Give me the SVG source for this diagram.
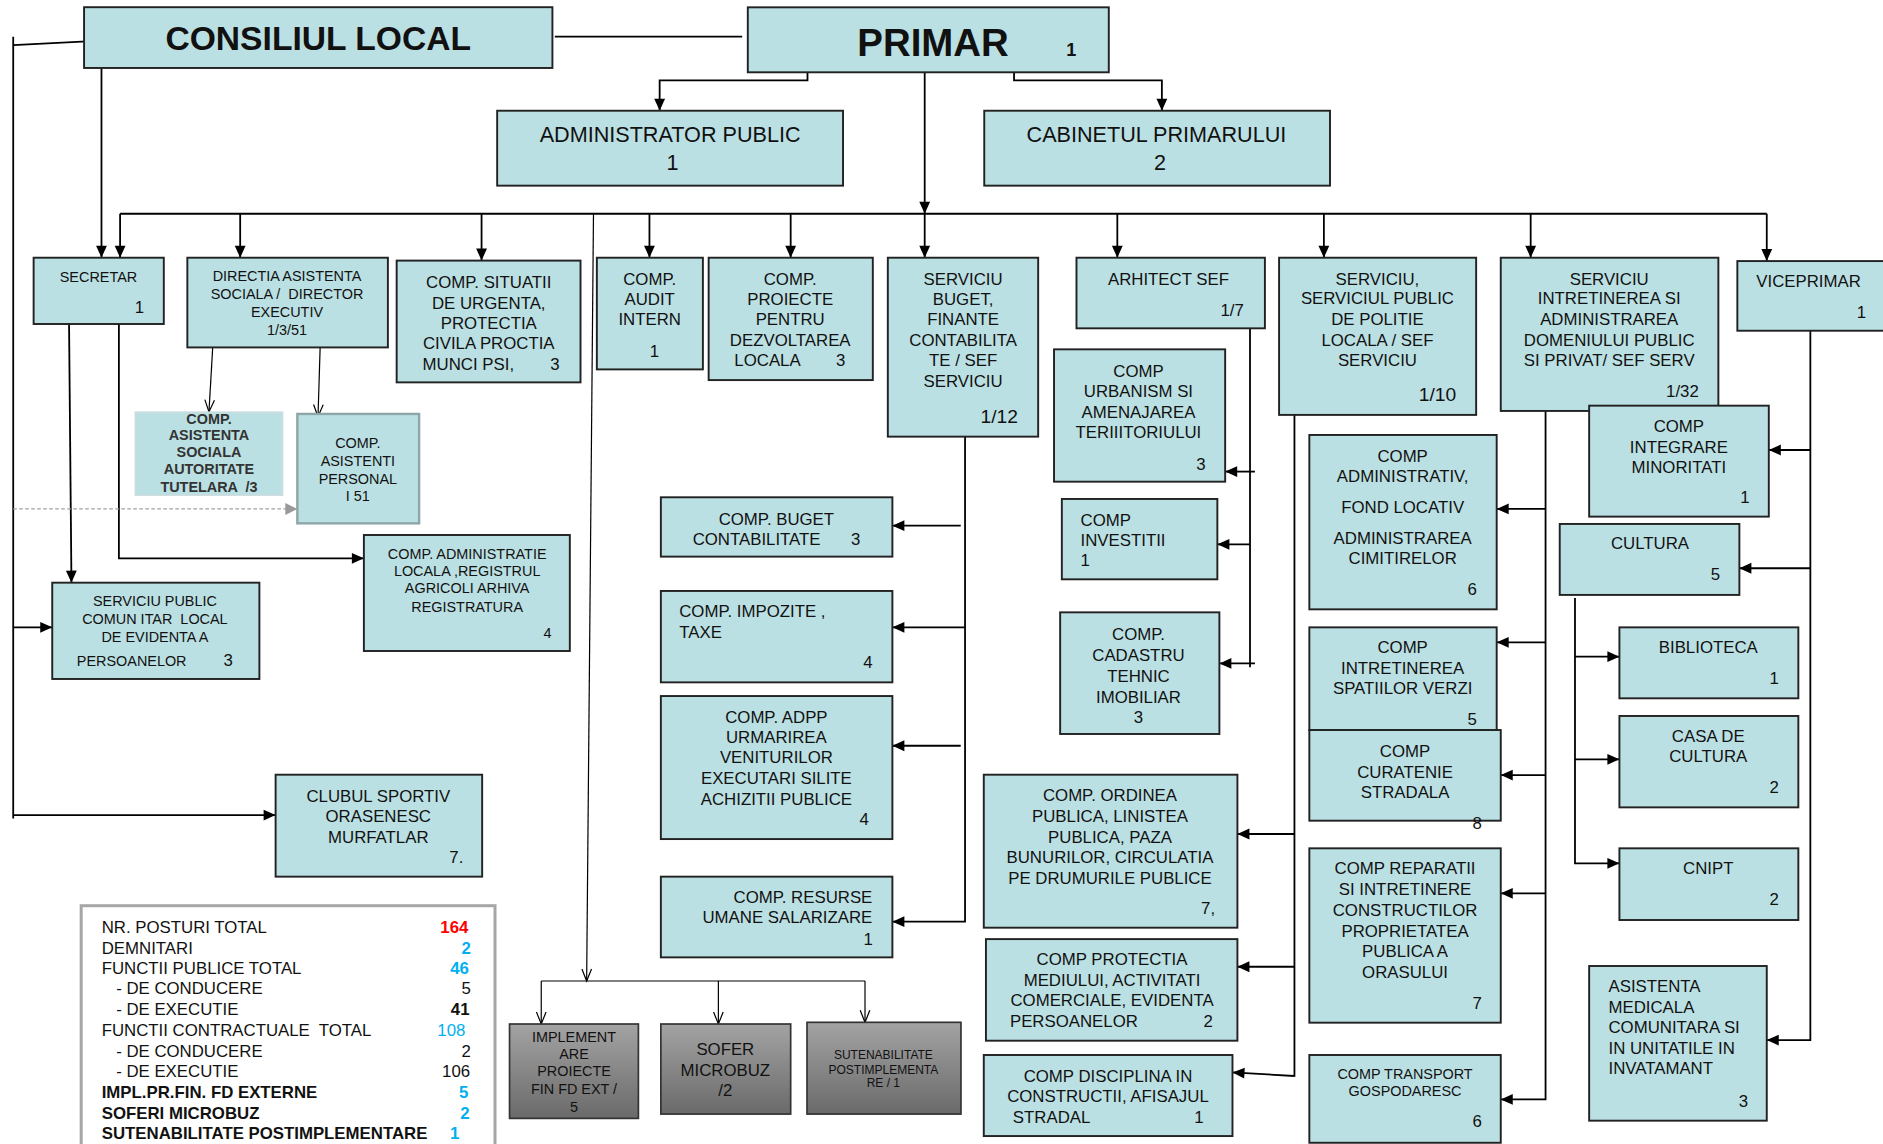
<svg xmlns="http://www.w3.org/2000/svg" width="1883" height="1144" viewBox="0 0 1883 1144">
<defs>
<style>
.n{fill:#bbe0e3;stroke:#222;stroke-width:1.6}
.g{stroke:#333;stroke-width:1.4}
.c{stroke:#000;stroke-width:1.5;fill:none}
.th{stroke:#000;stroke-width:1;fill:none}
text{font-family:"Liberation Sans",Arial,sans-serif;fill:#111}
.f10{font-size:10px}.f12{font-size:12px}.f14{font-size:14px}.f16{font-size:16px}.f18{font-size:18px}
.m{text-anchor:middle}.e{text-anchor:end}.b{font-weight:bold}
</style>
<linearGradient id="gr" x1="0" y1="0" x2="0" y2="1"><stop offset="0" stop-color="#a3a3a3"/><stop offset="1" stop-color="#6a6a6a"/></linearGradient>
<marker id="a" markerUnits="userSpaceOnUse" markerWidth="10" markerHeight="9" refX="10" refY="4.5" orient="auto" overflow="visible"><path d="M0,0 L10,4.5 L0,9 Z" fill="#000"/></marker>
<marker id="o" markerUnits="userSpaceOnUse" markerWidth="10" markerHeight="8" refX="10" refY="4" orient="auto" overflow="visible"><path d="M0,0 L10,4 L0,8" fill="none" stroke="#000" stroke-width="1"/></marker>
<marker id="ga" markerUnits="userSpaceOnUse" markerWidth="10" markerHeight="10" refX="10" refY="5" orient="auto" overflow="visible"><path d="M0,0 L10,5 L0,10 Z" fill="#999"/></marker>
</defs>
<rect width="1883" height="1144" fill="#fff"/>
<g transform="scale(1.2009)">
<g id="connectors">
<path class="c" d="M462,30.5 H618"/>
<path class="c" d="M11,37.5 L84.5,33.9"/>
<path class="c" d="M11,30.5 V681.5"/>
<path class="c" d="M11,522.4 H43.5" marker-end="url(#a)"/>
<path class="c" d="M11,678.7 H229.5" marker-end="url(#a)"/>
<path class="c" d="M84.5,56.6 V214.6" marker-end="url(#a)"/>
<path class="c" d="M672.4,55 V66.9 H549.3 V92.2" marker-end="url(#a)"/>
<path class="c" d="M844.4,55 V66.9 H967.5 V92.2" marker-end="url(#a)"/>
<path class="c" d="M770,60 V178" marker-end="url(#a)"/>
<path class="c" d="M100,178 H1471.2"/>
<path class="c" d="M100,178 V214.6" marker-end="url(#a)"/>
<path class="c" d="M200,178 V214.6" marker-end="url(#a)"/>
<path class="c" d="M401,178 V217" marker-end="url(#a)"/>
<path class="c" d="M540.8,178 V214.6" marker-end="url(#a)"/>
<path class="c" d="M658.4,178 V214.6" marker-end="url(#a)"/>
<path class="c" d="M770,178 V214.6" marker-end="url(#a)"/>
<path class="c" d="M930.4,178 V214.6" marker-end="url(#a)"/>
<path class="c" d="M1102.4,178 V214.6" marker-end="url(#a)"/>
<path class="c" d="M1274.6,178 V214.6" marker-end="url(#a)"/>
<path class="c" d="M1471.2,178 V217.4" marker-end="url(#a)"/>
<path class="c" d="M57.5,269.8 L59.5,485.2" marker-end="url(#a)"/>
<path class="c" d="M99,261 V464.9 H303" marker-end="url(#a)"/>
<path class="th" d="M177.6,281 L174,343" marker-end="url(#o)"/>
<path class="th" d="M266.6,289 L264.8,347" marker-end="url(#o)"/>
<path d="M11,423.8 H247.6" fill="none" stroke="#a0a0a0" stroke-width="1" stroke-dasharray="3,2" marker-end="url(#ga)"/>
<path class="th" d="M494.2,178 L488.5,816.9" marker-end="url(#o)"/>
<path class="th" d="M450.7,816.9 H720.3"/>
<path class="th" d="M450.7,816.9 V852.7" marker-end="url(#o)"/>
<path class="th" d="M598.2,816.9 V852.7" marker-end="url(#o)"/>
<path class="th" d="M720.3,816.9 V851.3" marker-end="url(#o)"/>
<path class="c" d="M803.6,363.6 V767.5 H743.1" marker-end="url(#a)"/>
<path class="c" d="M800,437.7 H743.1" marker-end="url(#a)"/>
<path class="c" d="M803.6,522.4 H743.1" marker-end="url(#a)"/>
<path class="c" d="M800,621 H743.1" marker-end="url(#a)"/>
<path class="c" d="M1040.9,273.4 V555.7"/>
<path class="c" d="M1045,392.7 H1020.2" marker-end="url(#a)"/>
<path class="c" d="M1040.9,453.3 H1013.7" marker-end="url(#a)"/>
<path class="c" d="M1045,552.4 H1015.4" marker-end="url(#a)"/>
<path class="c" d="M1077.9,329 V896.6"/>
<path class="c" d="M1077.9,694.5 H1030.4" marker-end="url(#a)"/>
<path class="c" d="M1077.9,805 H1030.4" marker-end="url(#a)"/>
<path class="c" d="M1077.9,896 L1026.3,893" marker-end="url(#a)"/>
<path class="c" d="M1287,337 V915.5 H1249.7" marker-end="url(#a)"/>
<path class="c" d="M1287,423.8 H1246.3" marker-end="url(#a)"/>
<path class="c" d="M1287,534.9 H1246.3" marker-end="url(#a)"/>
<path class="c" d="M1287,645.4 H1249.7" marker-end="url(#a)"/>
<path class="c" d="M1287,743.9 H1249.7" marker-end="url(#a)"/>
<path class="c" d="M1507.5,275.4 V866.1 H1471.2" marker-end="url(#a)"/>
<path class="c" d="M1507.5,374.7 H1472.9" marker-end="url(#a)"/>
<path class="c" d="M1507.5,473.2 H1448.4" marker-end="url(#a)"/>
<path class="c" d="M1311.5,498 V718.9 H1348.5" marker-end="url(#a)"/>
<path class="c" d="M1311.5,546.8 H1348.5" marker-end="url(#a)"/>
<path class="c" d="M1311.5,632.3 H1348.5" marker-end="url(#a)"/>
</g>

<g id="consiliul"><rect class="n" x="70" y="6" width="390" height="50.6"/><text class="m b" x="265" y="42" style="font-size:28px">CONSILIUL LOCAL</text></g>
<g id="primar"><rect class="n" x="622.7" y="6.1" width="300.6" height="54.1"/><text class="m b" x="777" y="46.4" style="font-size:32px">PRIMAR</text><text class="m b" x="892" y="46.4" style="font-size:15px">1</text></g>
<g id="administrator"><rect class="n" x="414" y="92.2" width="288" height="62.4"/><text class="m f18" x="558" y="118">ADMINISTRATOR PUBLIC</text><text class="m f18" x="560" y="141.6">1</text></g>
<g id="cabinet"><rect class="n" x="819.6" y="92.2" width="287.9" height="62.4"/><text class="m f18" x="963" y="118">CABINETUL PRIMARULUI</text><text class="m f18" x="966" y="141.6">2</text></g>
<g id="secretar"><rect class="n" x="28" y="214.6" width="108.4" height="55.2"/><text class="m f12" x="82" y="234.6">SECRETAR</text><text class="m f14" x="116" y="261">1</text></g>
<g id="directia"><rect class="n" x="156" y="214.6" width="167" height="74.7"/><text class="m f12" x="239" y="234" xml:space="preserve">DIRECTIA ASISTENTA</text><text class="m f12" x="239" y="249" xml:space="preserve">SOCIALA /  DIRECTOR</text><text class="m f12" x="239" y="264">EXECUTIV</text><text class="m f12" x="239" y="279">1/3/51</text></g>
<g id="situatii"><rect class="n" x="330.3" y="217" width="153.1" height="101.4"/><text class="m f14" x="407" y="240">COMP. SITUATII</text><text class="m f14" x="407" y="257">DE URGENTA,</text><text class="m f14" x="407" y="274">PROTECTIA</text><text class="m f14" x="407" y="291">CIVILA PROCTIA</text><text class="f14" x="351.9" y="308">MUNCI PSI,</text><text class="m f14" x="462" y="308">3</text></g>
<g id="audit"><rect class="n" x="497" y="214.6" width="88.3" height="93"/><text class="m f14" x="541" y="237">COMP.</text><text class="m f14" x="541" y="254">AUDIT</text><text class="m f14" x="541" y="271">INTERN</text><text class="m f14" x="545" y="297">1</text></g>
<g id="proiecte"><rect class="n" x="590.1" y="214.6" width="136.7" height="101.9"/><text class="m f14" x="658" y="237">COMP.</text><text class="m f14" x="658" y="254">PROIECTE</text><text class="m f14" x="658" y="271">PENTRU</text><text class="m f14" x="658" y="288">DEZVOLTAREA</text><text class="f14" x="611.5" y="305">LOCALA</text><text class="m f14" x="700" y="305">3</text></g>
<g id="buget"><rect class="n" x="739.3" y="214.6" width="125.2" height="149"/><text class="m f14" x="802" y="237">SERVICIU</text><text class="m f14" x="802" y="254">BUGET,</text><text class="m f14" x="802" y="271">FINANTE</text><text class="m f14" x="802" y="288">CONTABILITA</text><text class="m f14" x="802" y="305">TE / SEF</text><text class="m f14" x="802" y="322">SERVICIU</text><text class="m f16" x="832" y="352">1/12</text></g>
<g id="arhitect"><rect class="n" x="896.4" y="214.6" width="156.9" height="58.8"/><text class="m f14" x="973" y="237">ARHITECT SEF</text><text class="m f14" x="1026" y="263">1/7</text></g>
<g id="politie"><rect class="n" x="1065.1" y="214.6" width="164.1" height="130.9"/><text class="m f14" x="1147" y="237">SERVICIU,</text><text class="m f14" x="1147" y="253.5">SERVICIUL PUBLIC</text><text class="m f14" x="1147" y="271">DE POLITIE</text><text class="m f14" x="1147" y="288">LOCALA / SEF</text><text class="m f14" x="1147" y="305">SERVICIU</text><text class="m f16" x="1197" y="334">1/10</text></g>
<g id="intretinerea"><rect class="n" x="1249.7" y="214.6" width="181.2" height="127.6"/><text class="m f14" x="1340" y="237">SERVICIU</text><text class="m f14" x="1340" y="253.5">INTRETINEREA SI</text><text class="m f14" x="1340" y="271">ADMINISTRAREA</text><text class="m f14" x="1340" y="288">DOMENIULUI PUBLIC</text><text class="m f14" x="1340" y="305">SI PRIVAT/ SEF SERV</text><text class="m f14" x="1401" y="331">1/32</text></g>
<g id="viceprimar"><rect class="n" x="1446.7" y="217.4" width="130" height="58"/><text class="m f14" x="1506" y="239">VICEPRIMAR</text><text class="m f14" x="1550" y="265">1</text></g>
<g id="asistenta-sociala"><rect x="112.8" y="343.3" width="122.4" height="68.9" fill="#bbe0e3" stroke="#c9dcdf" stroke-width="1.5"/><text class="m f12 b" x="174" y="353" style="fill:#333">COMP.</text><text class="m f12 b" x="174" y="366" style="fill:#333">ASISTENTA</text><text class="m f12 b" x="174" y="380.5" style="fill:#333">SOCIALA</text><text class="m f12 b" x="174" y="395" style="fill:#333">AUTORITATE</text><text class="m f12 b" x="174" y="410" style="fill:#333" xml:space="preserve">TUTELARA  /3</text></g>
<g id="asistenti-personal"><rect x="247.6" y="344.7" width="101.4" height="91.1" fill="#bbe0e3" stroke="#8fa6a9" stroke-width="2"/><text class="m f12" x="298" y="373">COMP.</text><text class="m f12" x="298" y="388">ASISTENTI</text><text class="m f12" x="298" y="403">PERSONAL</text><text class="m f12" x="298" y="417">I 51</text></g>
<g id="administratie-locala"><rect class="n" x="303" y="445.5" width="171.5" height="96.6"/><text class="m f12" x="389" y="465.5">COMP. ADMINISTRATIE</text><text class="m f12" x="389" y="479.6">LOCALA ,REGISTRUL</text><text class="m f12" x="389" y="494.1">AGRICOLI ARHIVA</text><text class="m f12" x="389" y="509.3">REGISTRATURA</text><text class="m f12" x="456" y="531.5">4</text></g>
<g id="spclep"><rect class="n" x="43.5" y="485.2" width="172.5" height="80.2"/><text class="m f12" x="129" y="505">SERVICIU PUBLIC</text><text class="m f12" x="129" y="519.5" xml:space="preserve">COMUN ITAR  LOCAL</text><text class="m f12" x="129" y="534.5">DE EVIDENTA A</text><text class="f12" x="64" y="554.3">PERSOANELOR</text><text class="m f14" x="190" y="554.3">3</text></g>
<g id="clubul"><rect class="n" x="229.5" y="645.1" width="172" height="84.9"/><text class="m f14" x="315" y="667.6">CLUBUL SPORTIV</text><text class="m f14" x="315" y="684.2">ORASENESC</text><text class="m f14" x="315" y="701.7">MURFATLAR</text><text class="m f14" x="380" y="718.4">7.</text></g>
<g id="legend"><rect x="67.6" y="754.2" width="344.6" height="220" fill="#fff" stroke="#a6a6a6" stroke-width="2.5"/>
<text class="f14" x="84.7" y="777">NR. POSTURI TOTAL</text><text class="f14 e b" x="390" y="777" style="fill:#ff0000">164</text>
<text class="f14" x="84.7" y="794">DEMNITARI</text><text class="f14 e b" x="392" y="794" style="fill:#00b0f0">2</text>
<text class="f14" x="84.7" y="811">FUNCTII PUBLICE TOTAL</text><text class="f14 e b" x="390.5" y="811" style="fill:#00b0f0">46</text>
<text class="f14" x="96.7" y="828">- DE CONDUCERE</text><text class="f14 e" x="392" y="828">5</text>
<text class="f14" x="96.7" y="845.5">- DE EXECUTIE</text><text class="f14 e b" x="391" y="845.5">41</text>
<text class="f14" x="84.7" y="863" xml:space="preserve">FUNCTII CONTRACTUALE  TOTAL</text><text class="f14 e" x="387.5" y="863" style="fill:#00b0f0">108</text>
<text class="f14" x="96.7" y="880">- DE CONDUCERE</text><text class="f14 e" x="392" y="880">2</text>
<text class="f14" x="96.7" y="897">- DE EXECUTIE</text><text class="f14 e" x="391.5" y="897">106</text>
<text class="f14 b" x="84.7" y="914.5">IMPL.PR.FIN. FD EXTERNE</text><text class="f14 e b" x="390" y="914.5" style="fill:#00b0f0">5</text>
<text class="f14 b" x="84.7" y="931.5">SOFERI MICROBUZ</text><text class="f14 e b" x="391" y="931.5" style="fill:#00b0f0">2</text>
<text class="f14 b" x="84.7" y="948.5">SUTENABILITATE POSTIMPLEMENTARE</text><text class="f14 e b" x="382.4" y="948.5" style="fill:#00b0f0">1</text></g>
<g id="implementare"><rect x="424.3" y="852.7" width="107.3" height="78.6" fill="url(#gr)" class="g"/><text class="m f12" x="478" y="867.4">IMPLEMENT</text><text class="m f12" x="478" y="882.2">ARE</text><text class="m f12" x="478" y="896">PROIECTE</text><text class="m f12" x="478" y="911">FIN FD EXT /</text><text class="m f12" x="478" y="926.3">5</text></g>
<g id="sofer"><rect x="550.3" y="852.7" width="108.1" height="75" fill="url(#gr)" class="g"/><text class="m f14" x="604" y="878.5">SOFER</text><text class="m f14" x="604" y="895.8">MICROBUZ</text><text class="m f14" x="604" y="912.7">/2</text></g>
<g id="sutenabilitate"><rect x="672" y="851.3" width="128.2" height="76.4" fill="url(#gr)" class="g"/><text class="m f10" x="735.6" y="882">SUTENABILITATE</text><text class="m f10" x="735.6" y="894">POSTIMPLEMENTA</text><text class="m f10" x="735.6" y="905.5">RE / 1</text></g>
<g id="comp-buget"><rect class="n" x="550.3" y="414.1" width="192.8" height="49.4"/><text class="m f14" x="646.5" y="437.2">COMP. BUGET</text><text class="f14" x="576.8" y="453.8">CONTABILITATE</text><text class="m f14" x="712.5" y="453.8">3</text></g>
<g id="impozite"><rect class="n" x="550.3" y="492.1" width="192.8" height="76.1"/><text class="f14" x="565.6" y="514">COMP. IMPOZITE ,</text><text class="f14" x="565.6" y="531.5">TAXE</text><text class="m f14" x="722.7" y="556.5">4</text></g>
<g id="adpp"><rect class="n" x="550.3" y="579.6" width="192.8" height="119.1"/><text class="m f14" x="646.5" y="602.3">COMP. ADPP</text><text class="m f14" x="646.5" y="619">URMARIREA</text><text class="m f14" x="646.5" y="635.6">VENITURILOR</text><text class="m f14" x="646.5" y="652.9">EXECUTARI SILITE</text><text class="m f14" x="646.5" y="670.3">ACHIZITII PUBLICE</text><text class="m f14" x="719.6" y="687">4</text></g>
<g id="resurse"><rect class="n" x="550.3" y="730" width="192.8" height="67.2"/><text class="e f14" x="726.4" y="751.7">COMP. RESURSE</text><text class="e f14" x="726.4" y="768.9">UMANE SALARIZARE</text><text class="m f14" x="723" y="786.9">1</text></g>
<g id="urbanism"><rect class="n" x="877.7" y="290.9" width="142.5" height="110.2"/><text class="m f14" x="948" y="314">COMP</text><text class="m f14" x="948" y="331">URBANISM SI</text><text class="m f14" x="948" y="348">AMENAJAREA</text><text class="m f14" x="948" y="365">TERIIITORIULUI</text><text class="m f14" x="1000" y="391.4">3</text></g>
<g id="investitii"><rect class="n" x="884.2" y="415.5" width="129.5" height="66.9"/><text class="f14" x="899.8" y="437.7">COMP</text><text class="f14" x="899.8" y="454.6">INVESTITII</text><text class="f14" x="899.8" y="471.3">1</text></g>
<g id="cadastru"><rect class="n" x="882.8" y="509.9" width="132.6" height="101.3"/><text class="m f14" x="948" y="532.9">COMP.</text><text class="m f14" x="948" y="550.1">CADASTRU</text><text class="m f14" x="948" y="567.6">TEHNIC</text><text class="m f14" x="948" y="585.1">IMOBILIAR</text><text class="m f14" x="948" y="602.3">3</text></g>
<g id="ordinea"><rect class="n" x="819.2" y="645.1" width="211.2" height="127.4"/><text class="m f14" x="924.3" y="666.7">COMP. ORDINEA</text><text class="m f14" x="924.3" y="684.2">PUBLICA, LINISTEA</text><text class="m f14" x="924.3" y="701.7">PUBLICA, PAZA</text><text class="m f14" x="924.3" y="718.9">BUNURILOR, CIRCULATIA</text><text class="m f14" x="924.3" y="736.1">PE DRUMURILE PUBLICE</text><text class="m f14" x="1006" y="761.1">7,</text></g>
<g id="protectia"><rect class="n" x="821" y="782" width="209.4" height="84.6"/><text class="m f14" x="926" y="803.6">COMP PROTECTIA</text><text class="m f14" x="926" y="821.1">MEDIULUI, ACTIVITATI</text><text class="m f14" x="926" y="837.7">COMERCIALE, EVIDENTA</text><text class="f14" x="841" y="854.9">PERSOANELOR</text><text class="m f14" x="1006" y="854.9">2</text></g>
<g id="disciplina"><rect class="n" x="819.2" y="878.5" width="207.1" height="67.5"/><text class="m f14" x="922.6" y="900.8">COMP DISCIPLINA IN</text><text class="m f14" x="922.6" y="917.4">CONSTRUCTII, AFISAJUL</text><text class="f14" x="843.4" y="934.9">STRADAL</text><text class="m f14" x="998.4" y="934.9">1</text></g>
<g id="administrativ"><rect class="n" x="1090.3" y="362.2" width="156" height="145.2"/><text class="m f14" x="1168" y="384.4">COMP</text><text class="m f14" x="1168" y="401.1">ADMINISTRATIV,</text><text class="m f14" x="1168" y="427.4">FOND LOCATIV</text><text class="m f14" x="1168" y="453">ADMINISTRAREA</text><text class="m f14" x="1168" y="469.9">CIMITIRELOR</text><text class="m f14" x="1225.8" y="495.5">6</text></g>
<g id="spatii-verzi"><rect class="n" x="1090.3" y="522.4" width="156" height="85.6"/><text class="m f14" x="1168" y="544">COMP</text><text class="m f14" x="1168" y="561.2">INTRETINEREA</text><text class="m f14" x="1168" y="578.2">SPATIILOR VERZI</text><text class="m f14" x="1225.8" y="603.7">5</text></g>
<g id="curatenie"><rect class="n" x="1090.3" y="607.9" width="159.4" height="75.5"/><text class="m f14" x="1170" y="630">COMP</text><text class="m f14" x="1170" y="648">CURATENIE</text><text class="m f14" x="1170" y="664.8">STRADALA</text><text class="m f14" x="1230" y="690.6">8</text></g>
<g id="reparatii"><rect class="n" x="1090.3" y="706.4" width="159.4" height="145.2"/><text class="m f14" x="1170" y="727.8">COMP REPARATII</text><text class="m f14" x="1170" y="745.3">SI INTRETINERE</text><text class="m f14" x="1170" y="762.8">CONSTRUCTILOR</text><text class="m f14" x="1170" y="780">PROPRIETATEA</text><text class="m f14" x="1170" y="797.2">PUBLICA A</text><text class="m f14" x="1170" y="814.7">ORASULUI</text><text class="m f14" x="1230" y="840.5">7</text></g>
<g id="transport"><rect class="n" x="1090.3" y="878.5" width="159.4" height="73.1"/><text class="m f12" x="1170" y="898.8">COMP TRANSPORT</text><text class="m f12" x="1170" y="912.7">GOSPODARESC</text><text class="m f14" x="1230" y="938.2">6</text></g>
<g id="integrare"><rect class="n" x="1323.3" y="337.8" width="149.6" height="92.4"/><text class="m f14" x="1398" y="359.4">COMP</text><text class="m f14" x="1398" y="376.9">INTEGRARE</text><text class="m f14" x="1398" y="393.6">MINORITATI</text><text class="m f14" x="1453" y="419.1">1</text></g>
<g id="cultura"><rect class="n" x="1298.8" y="436.3" width="149.6" height="59.1"/><text class="m f14" x="1374" y="457.4">CULTURA</text><text class="m f14" x="1428.5" y="483">5</text></g>
<g id="biblioteca"><rect class="n" x="1348.5" y="522.4" width="149" height="59.1"/><text class="m f14" x="1422.5" y="544">BIBLIOTECA</text><text class="m f14" x="1477.3" y="569.6">1</text></g>
<g id="casa-de-cultura"><rect class="n" x="1348.5" y="596.2" width="149" height="76.1"/><text class="m f14" x="1422.5" y="617.6">CASA DE</text><text class="m f14" x="1422.5" y="634.2">CULTURA</text><text class="m f14" x="1477.3" y="660.6">2</text></g>
<g id="cnipt"><rect class="n" x="1348.5" y="706.4" width="149" height="59.7"/><text class="m f14" x="1422.5" y="727.8">CNIPT</text><text class="m f14" x="1477.3" y="753.6">2</text></g>
<g id="asistenta-medicala"><rect class="n" x="1323.3" y="804.4" width="147.9" height="128.8"/><text class="f14" x="1339.4" y="825.8">ASISTENTA</text><text class="f14" x="1339.4" y="843.3">MEDICALA</text><text class="f14" x="1339.4" y="860.5">COMUNITARA SI</text><text class="f14" x="1339.4" y="877.7">IN UNITATILE IN</text><text class="f14" x="1339.4" y="894.4">INVATAMANT</text><text class="m f14" x="1451.7" y="921.6">3</text></g>
</g>
</svg>
